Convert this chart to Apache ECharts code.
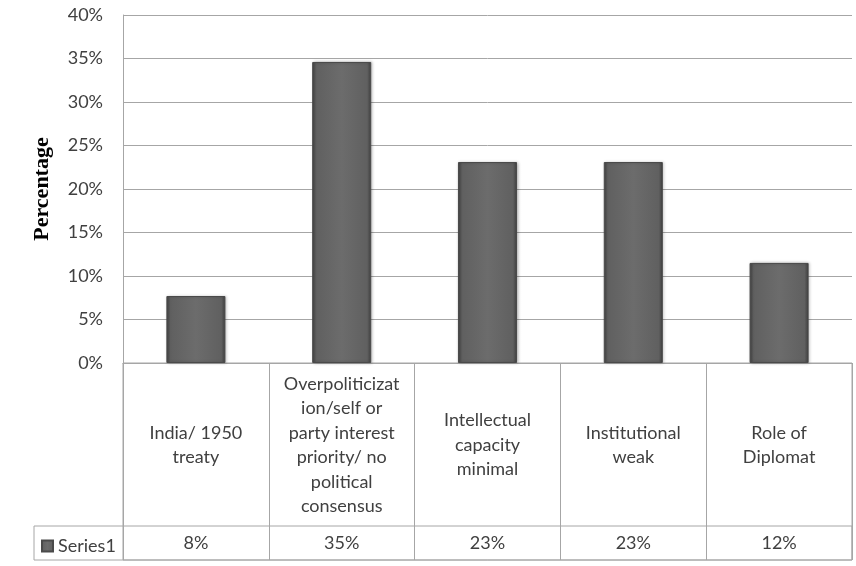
<!DOCTYPE html>
<html>
<head>
<meta charset="utf-8">
<style>
  html, body { margin: 0; padding: 0; background: #ffffff; }
  #chart { width: 856px; height: 566px; }
</style>
<script src="https://cdn.jsdelivr.net/npm/echarts@6/dist/echarts.min.js"></script>
</head>
<body>
<div id="chart"></div>
<script>
const categories = [
  "India/ 1950\ntreaty",
  "Overpoliticizat\nion/self or\nparty interest\npriority/ no\npolitical\nconsensus",
  "Intellectual\ncapacity\nminimal",
  "Institutional\nweak",
  "Role of\nDiplomat"
];
const seriesName = "Series1";
const values = [7.7, 34.6, 23.1, 23.1, 11.5];
const yTicks = { min: 0, max: 40, interval: 5 };

const valueLabels = values.map(v => Math.round(v) + "%");

const gridLine = "#a6a6a6";
const textColor = "#404040";
const font = "Lato";
const fs = 18;

const chart = echarts.init(document.getElementById("chart"), null, { renderer: "canvas" });

chart.setOption({
  animation: false,
  backgroundColor: "#ffffff",
  grid: [
    { left: 123, right: 4, top: 15, height: 348, show: false },
    { left: 123, right: 4, top: 363, height: 197, show: true, borderColor: gridLine, borderWidth: 1, backgroundColor: "transparent" },
    { left: 34, right: 4, top: 526, height: 34, show: true, borderColor: gridLine, borderWidth: 1, backgroundColor: "transparent" }
  ],
  legend: {
    left: 36, top: 532,
    itemWidth: 11, itemHeight: 11,
    icon: "rect",
    itemGap: 6,
    textStyle: { fontFamily: font, fontSize: fs, color: textColor },
    data: [seriesName]
  },
  xAxis: [
    {
      gridIndex: 0,
      type: "category",
      data: categories,
      axisTick: { show: false },
      axisLine: { show: true, lineStyle: { color: gridLine, width: 1 } },
      axisLabel: {
        interval: 0,
        margin: 82,
        verticalAlign: "middle",
        lineHeight: 24.5,
        fontFamily: font,
        fontSize: fs,
        color: textColor,
        align: "center"
      },
      splitLine: { show: false }
    },
    {
      gridIndex: 1,
      type: "category",
      data: valueLabels,
      position: "bottom",
      axisTick: { show: false },
      axisLine: { show: false },
      axisLabel: {
        interval: 0,
        inside: true,
        margin: 17,
        verticalAlign: "middle",
        fontFamily: font,
        fontSize: fs,
        color: textColor
      },
      splitLine: { show: true, interval: 0, lineStyle: { color: gridLine, width: 1 } }
    },
    { gridIndex: 2, type: "value", show: false }
  ],
  yAxis: [
    {
      gridIndex: 0,
      type: "value",
      min: yTicks.min,
      max: yTicks.max,
      interval: yTicks.interval,
      name: "Percentage",
      nameLocation: "middle",
      nameGap: 70,
      nameTextStyle: { fontFamily: "Liberation Serif", fontWeight: "bold", fontSize: 22, color: "#000000" },
      axisLine: { show: true, lineStyle: { color: gridLine, width: 1 } },
      axisTick: { show: false },
      axisLabel: {
        margin: 20,
        formatter: "{value}%",
        fontFamily: font,
        fontSize: fs,
        color: textColor
      },
      splitLine: { show: true, lineStyle: { color: gridLine, width: 1 } }
    },
    { gridIndex: 1, type: "value", show: false },
    { gridIndex: 2, type: "value", show: false }
  ],
  series: [
    {
      name: seriesName,
      type: "bar",
      xAxisIndex: 0,
      yAxisIndex: 0,
      data: values,
      barWidth: "40.5%",
      itemStyle: {
        color: new echarts.graphic.LinearGradient(0, 0, 1, 0, [
          { offset: 0, color: "#444444" },
          { offset: 0.07, color: "#606060" },
          { offset: 0.5, color: "#6c6c6c" },
          { offset: 0.93, color: "#606060" },
          { offset: 1, color: "#404040" }
        ]),
        borderColor: "#4a4a4a",
        borderWidth: 1,
        shadowColor: "rgba(0,0,0,0.25)",
        shadowBlur: 3,
        shadowOffsetX: 1,
        shadowOffsetY: 0
      }
    }
  ]
});
</script>
</body>
</html>
